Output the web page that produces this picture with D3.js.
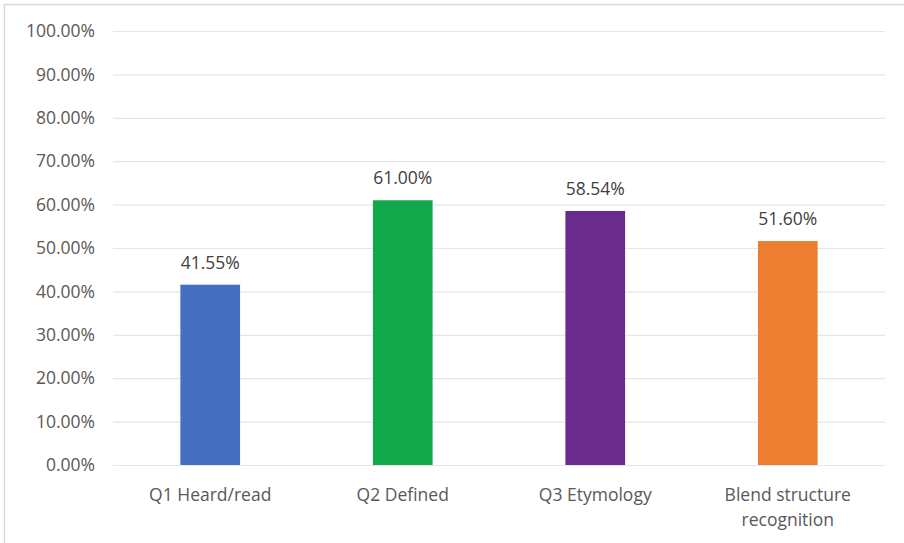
<!DOCTYPE html>
<html>
<head>
<meta charset="utf-8">
<script src="https://cdn.jsdelivr.net/npm/d3@7"></script>
<style>
  html, body { margin: 0; padding: 0; background: #fff; }
  svg { display: block; }
</style>
</head>
<body>
<svg id="chart" width="904" height="543"></svg>
<script>
// Share of respondents per question
const categories = ["Q1 Heard/read", "Q2 Defined", "Q3 Etymology", "Blend structure recognition"];
const categoryLines = [["Q1 Heard/read"], ["Q2 Defined"], ["Q3 Etymology"], ["Blend structure", "recognition"]];
const values = [41.55, 61.00, 58.54, 51.60];
const barColors = ["#4570c0", "#12a84c", "#6a2c8c", "#ed7d31"];
const yTicks = [0, 10, 20, 30, 40, 50, 60, 70, 80, 90, 100];

const svg = d3.select("#chart");
const W = 904, H = 543;
const margin = { left: 113, right: 19, top: 31, bottom: 78 };
const font = "'Open Sans', Calibri, 'Noto Sans', sans-serif";
const fontSize = "17.5px";

// chart frame
svg.append("rect")
  .attr("x", 4.5).attr("y", 4.5)
  .attr("width", W + 10).attr("height", H + 10)
  .attr("fill", "#fff").attr("stroke", "#d9d9d9").attr("stroke-width", 1.5);

const x = d3.scaleBand()
  .domain(categories)
  .range([margin.left, W - margin.right])
  .paddingInner(0.69).paddingOuter(0.35);

const y = d3.scaleLinear()
  .domain([0, 100])
  .range([H - margin.bottom, margin.top]);

// gridlines + tick labels
const yAxis = d3.axisLeft(y)
  .tickValues(yTicks)
  .tickSize(-(W - margin.right - margin.left))
  .tickPadding(18)
  .tickFormat(d => d.toFixed(2) + "%");

const gy = svg.append("g")
  .attr("transform", `translate(${margin.left},0)`)
  .call(yAxis);
gy.select(".domain").remove();
gy.selectAll(".tick line").attr("stroke", "#e6e6e6").attr("stroke-width", 1.2);
gy.selectAll(".tick text")
  .attr("fill", "#595959")
  .style("font-family", font)
  .style("font-size", fontSize);

// bars
svg.append("g").selectAll("rect")
  .data(categories)
  .join("rect")
  .attr("x", d => x(d))
  .attr("width", x.bandwidth())
  .attr("y", (d, i) => y(values[i]))
  .attr("height", (d, i) => y(0) - y(values[i]))
  .attr("fill", (d, i) => barColors[i]);

// value labels
svg.append("g").selectAll("text")
  .data(categories)
  .join("text")
  .attr("x", d => x(d) + x.bandwidth() / 2)
  .attr("y", (d, i) => y(values[i]) - 16)
  .attr("text-anchor", "middle")
  .attr("fill", "#404040")
  .style("font-family", font)
  .style("font-size", fontSize)
  .text((d, i) => values[i].toFixed(2) + "%");

// category labels
const cat = svg.append("g").selectAll("text")
  .data(categories)
  .join("text")
  .attr("text-anchor", "middle")
  .attr("fill", "#595959")
  .style("font-family", font)
  .style("font-size", fontSize)
  .attr("x", d => x(d) + x.bandwidth() / 2)
  .attr("y", y(0) + 36);
cat.selectAll("tspan")
  .data((d, i) => categoryLines[i])
  .join("tspan")
  .attr("x", function () { return d3.select(this.parentNode).attr("x"); })
  .attr("dy", (d, i) => i === 0 ? 0 : 25)
  .text(d => d);
</script>
</body>
</html>
